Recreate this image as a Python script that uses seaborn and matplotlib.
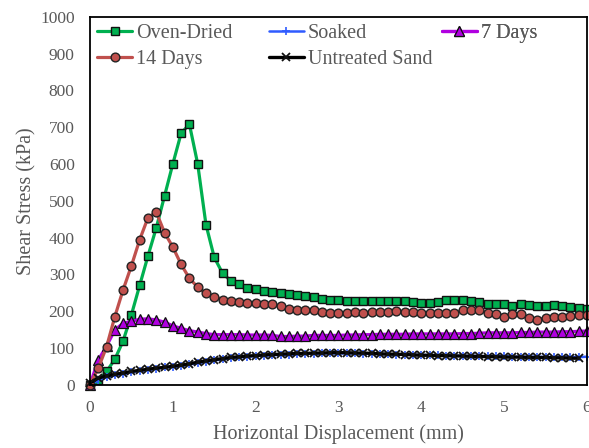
import matplotlib
matplotlib.use("Agg")
import matplotlib.pyplot as plt
import seaborn as sns
import pandas as pd

# ---------------- data ----------------
displacement = [0.0, 0.1, 0.2, 0.3, 0.4, 0.5, 0.6, 0.7, 0.8, 0.9,
                1.0, 1.1, 1.2, 1.3, 1.4, 1.5, 1.6, 1.7, 1.8, 1.9,
                2.0, 2.1, 2.2, 2.3, 2.4, 2.5, 2.6, 2.7, 2.8, 2.9,
                3.0, 3.1, 3.2, 3.3, 3.4, 3.5, 3.6, 3.7, 3.8, 3.9,
                4.0, 4.1, 4.2, 4.3, 4.4, 4.5, 4.6, 4.7, 4.8, 4.9,
                5.0, 5.1, 5.2, 5.3, 5.4, 5.5, 5.6, 5.7, 5.8, 5.9,
                6.0]

oven_dried = [0, 12, 36, 69, 119, 190, 270, 350, 426, 513,
              600, 683, 708, 600, 435, 346, 303, 282, 273, 264,
              259, 255, 252, 249, 246, 243, 240, 237, 234, 231,
              229, 227, 227, 227, 227, 227, 227, 227, 227, 224,
              222, 222, 225, 229, 229, 229, 227, 224, 220, 218,
              218, 215, 218, 216, 214, 214, 216, 214, 212, 209,
              206]

soaked = [0, 12, 20, 25, 30, 34, 38, 41, 44, 47,
          49, 52, 55, 59, 63, 66, 69, 72, 74, 76,
          78, 79, 80, 81, 82, 83, 84, 84, 85, 85,
          85, 85, 85, 84, 84, 83, 83, 82, 82, 81,
          81, 80, 80, 79, 79, 78, 78, 78, 77, 77,
          77, 76, 76, 76, 76, 75, 75, 75, 75, 75,
          76]

days_7 = [0, 67, 105, 149, 167, 172, 178, 179, 176, 170,
          160, 153, 147, 143, 139, 136, 136, 136, 136, 135,
          135, 135, 134, 131, 131, 132, 132, 134, 134, 134,
          134, 135, 135, 136, 136, 137, 137, 137, 137, 138,
          138, 138, 138, 138, 138, 139, 139, 140, 141, 141,
          141, 141, 142, 142, 143, 143, 143, 144, 144, 145,
          146]

days_14 = [0, 45, 103, 185, 258, 323, 394, 454, 469, 413,
           374, 327, 289, 265, 248, 239, 231, 227, 224, 222,
           222, 220, 218, 213, 206, 203, 202, 202, 197, 196,
           194, 194, 198, 196, 197, 198, 198, 201, 198, 198,
           196, 196, 196, 196, 194, 203, 203, 203, 194, 192,
           185, 191, 191, 182, 176, 182, 185, 185, 187, 189,
           189]

untreated_sand = [5, 18, 24, 28, 32, 36, 39, 42, 45, 47,
                  50, 53, 57, 61, 65, 68, 71, 74, 76, 78,
                  79, 81, 82, 83, 84, 85, 85, 86, 86, 87,
                  87, 87, 86, 86, 85, 84, 83, 83, 82, 81,
                  80, 80, 79, 79, 78, 78, 77, 77, 76, 76,
                  75, 75, 75, 74, 74, 74, 73, 73, 72, 72]

series_names = ["Oven-Dried", "Soaked", "7 Days", "14 Days", "Untreated Sand"]
x_ticks = [0, 1, 2, 3, 4, 5, 6]
y_ticks = [0, 100, 200, 300, 400, 500, 600, 700, 800, 900, 1000]

# ---------------- style ----------------
sns.set_theme(style="white")
plt.rcParams["font.family"] = ["Liberation Serif", "DejaVu Serif"]
TEXT = "#595959"

fig = plt.figure(figsize=(5.89, 4.48), dpi=100)
ax = fig.add_axes([0.1528, 0.1413, 0.8438, 0.8214])

styles = [
    dict(color="#00B050", marker="s", markersize=6.0, markerfacecolor="#00B050",
         markeredgecolor="#111111", markeredgewidth=1.0, linewidth=2.3),
    dict(color="#2F5BFF", marker="+", markersize=6.0, markeredgecolor="#2F5BFF",
         markeredgewidth=1.2, linewidth=1.8),
    dict(color="#B000E0", marker="^", markersize=6.5, markerfacecolor="#B000E0",
         markeredgecolor="#111111", markeredgewidth=0.9, linewidth=2.3),
    dict(color="#C0504D", marker="o", markersize=6.3, markerfacecolor="#C0504D",
         markeredgecolor="#222222", markeredgewidth=1.0, linewidth=2.3),
    dict(color="#000000", marker="x", markersize=6.0, markeredgecolor="#111111",
         markeredgewidth=1.3, linewidth=2.4),
]
data = [
    (displacement, oven_dried),
    (displacement, soaked),
    (displacement, days_7),
    (displacement, days_14),
    (displacement[:len(untreated_sand)], untreated_sand),
]

for (xs, ys), st in zip(data, styles):
    sns.lineplot(x=xs, y=ys, ax=ax, estimator=None, sort=False, legend=False,
                 clip_on=False, **st)

lines = ax.get_lines()

ax.set_xlim(0, 6)
ax.set_ylim(0, 1000)
ax.set_xticks(x_ticks)
ax.set_yticks(y_ticks)
ax.tick_params(axis="both", length=0, labelsize=12.5, labelcolor=TEXT, pad=11)
ax.set_xlabel("Horizontal Displacement (mm)", fontsize=14.5, color=TEXT, labelpad=6)
ax.set_ylabel("Shear Stress (kPa)", fontsize=14.5, color=TEXT)
ax.yaxis.set_label_coords(-0.107, 0.5)
for sp in ax.spines.values():
    sp.set_visible(True)
    sp.set_color("#000000")
    sp.set_linewidth(1.3)
ax.grid(False)

# legend laid out in three fixed columns (like the reference)
cols = [([0, 3], 0.0147), ([1, 4], 0.360), ([2], 0.708)]
for idx, xa in cols:
    leg = ax.legend([lines[i] for i in idx], [series_names[i] for i in idx],
                    loc="upper left", bbox_to_anchor=(xa, 0.98), frameon=False,
                    fontsize=14.5, labelcolor=TEXT, handlelength=1.74,
                    handletextpad=0.18, borderpad=0, borderaxespad=0,
                    labelspacing=0.32)
    ax.add_artist(leg)

fig.savefig("out.png", dpi=100)
